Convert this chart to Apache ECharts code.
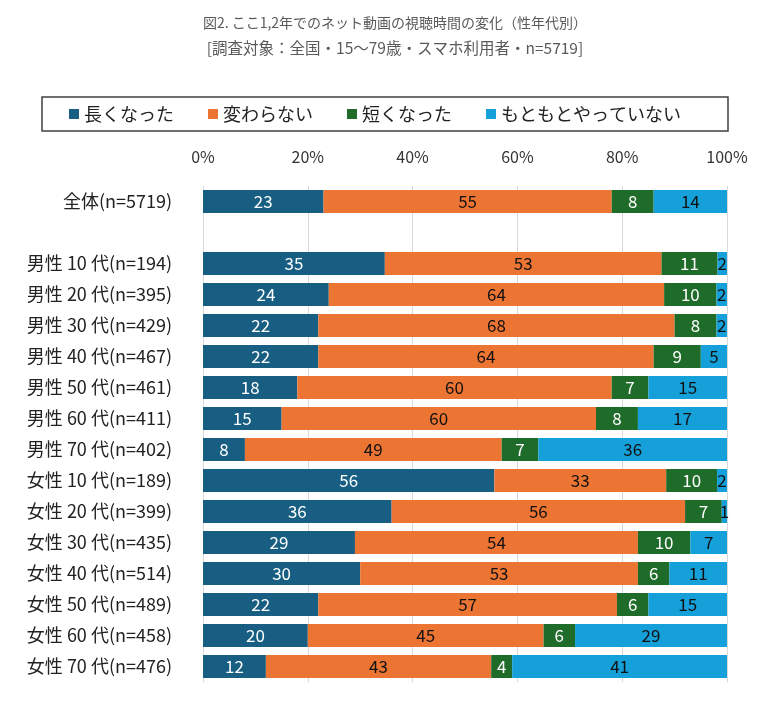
<!DOCTYPE html>
<html><head><meta charset="utf-8">
<script src="https://cdn.jsdelivr.net/npm/echarts@6/dist/echarts.min.js"></script>
<style>html,body{margin:0;padding:0;background:#fff}#c{width:758px;height:702px}</style>
</head><body><div id="c"></div>
<script>
const categories = ['全体(n=5719)', '', '男性 10 代(n=194)', '男性 20 代(n=395)', '男性 30 代(n=429)', '男性 40 代(n=467)', '男性 50 代(n=461)', '男性 60 代(n=411)', '男性 70 代(n=402)', '女性 10 代(n=189)', '女性 20 代(n=399)', '女性 30 代(n=435)', '女性 40 代(n=514)', '女性 50 代(n=489)', '女性 60 代(n=458)', '女性 70 代(n=476)'];
const longer   = [23, '-', 34.7, 24, 22, 22, 18, 15, 8, 55.6, 36, 29, 30, 22, 20, 12];
const same     = [55, '-', 52.8, 64, 68, 64, 60, 60, 49, 32.8, 56, 54, 53, 57, 45, 43];
const shorter  = [8, '-', 10.7, 10, 8, 9, 7, 8, 7, 9.7, 7, 10, 6, 6, 6, 4];
const never    = [14, '-', 1.8, 2, 2, 5, 15, 17, 36, 1.9, 1, 7, 11, 15, 29, 41];
const seriesNames = ['長くなった', '変わらない', '短くなった', 'もともとやっていない'];
const tickLabels = ['0%', '20%', '40%', '60%', '80%', '100%'];

const colors = ['#175E82', '#ED7534', '#1E6B2A', '#15A0D9'];
const labelColors = ['#fff', '#111', '#fff', '#111'];
const FONT = '"Noto Sans CJK JP", "Noto Sans", sans-serif';
const values = [longer, same, shorter, never];

const chart = echarts.init(document.getElementById('c'), null, {renderer: 'canvas'});
chart.setOption({
  animation: false,
  textStyle: {fontFamily: FONT},
  title: [
    {text: '図2. ここ1,2年でのネット動画の視聴時間の変化（性年代別）', left: 390, top: 11, textAlign: 'center',
     textStyle: {fontSize: 14, fontWeight: 'normal', color: '#595959', fontFamily: FONT}},
    {text: '[調査対象：全国・15～79歳・スマホ利用者・n=5719]', left: 390, top: 35, textAlign: 'center',
     textStyle: {fontSize: 15.5, fontWeight: 'normal', color: '#595959', fontFamily: FONT}}
  ],
  graphic: [{type: 'rect', shape: {x: 42, y: 97, width: 686, height: 34}, style: {fill: 'none', stroke: '#404040', lineWidth: 1.5}}],
  legend: {
    data: seriesNames, left: 64, top: 100, width: 680,
    itemWidth: 10, itemHeight: 10, itemGap: 34, icon: 'rect',
    textStyle: {fontSize: 18, color: '#222', fontFamily: FONT, padding: [0,0,0,0]}
  },
  grid: {left: 203, right: 31, top: 186, height: 496},
  xAxis: {
    type: 'value', min: 0, max: 100, interval: 20, position: 'top',
    axisLine: {show: false}, axisTick: {show: false},
    splitLine: {lineStyle: {color: '#D9D9D9', width: 1}},
    axisLabel: {fontSize: 16, color: '#333', margin: 21, formatter: (v) => tickLabels[v / 20]}
  },
  yAxis: {
    type: 'category', data: categories, inverse: true,
    axisLine: {show: false}, axisTick: {show: false},
    axisLabel: {fontSize: 18, color: '#222', margin: 31}
  },
  series: values.map((arr, i) => ({
    name: seriesNames[i], type: 'bar', stack: 'total', data: arr, barWidth: 23,
    itemStyle: {color: colors[i]},
    label: {show: true, position: 'inside', color: labelColors[i], fontSize: 17,
            formatter: (p) => Math.round(p.value)}
  }))
});
</script></body></html>
